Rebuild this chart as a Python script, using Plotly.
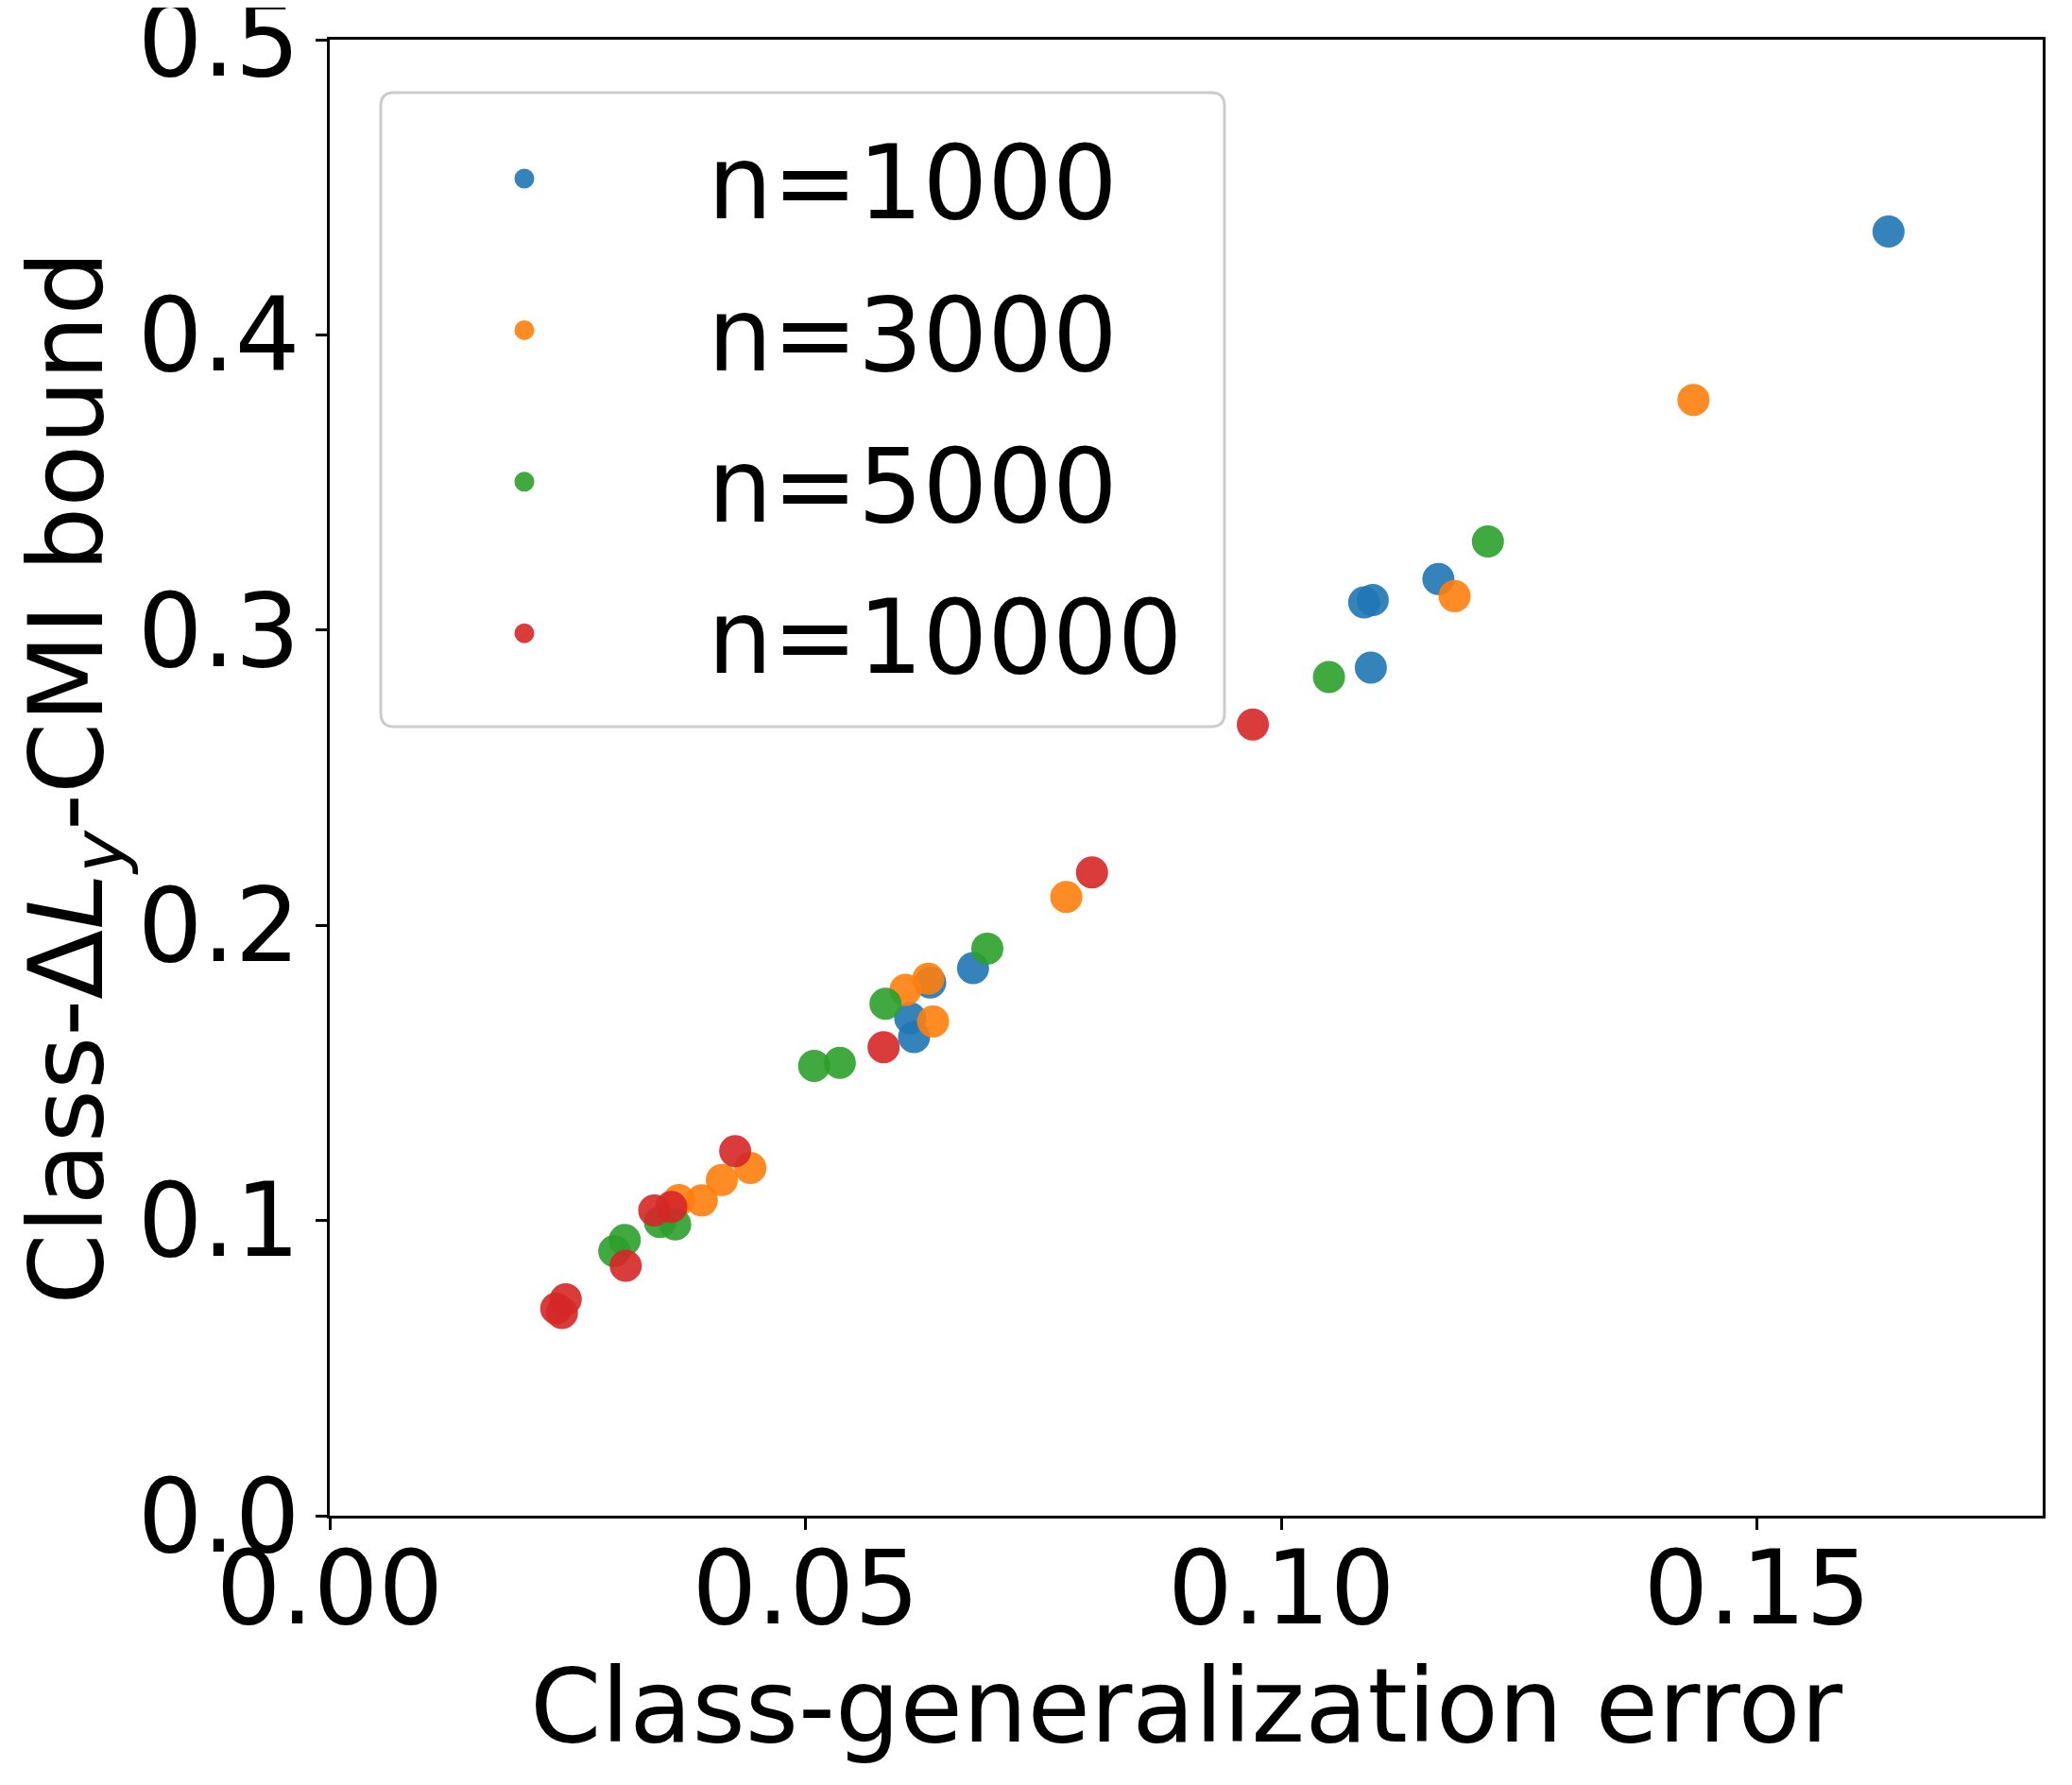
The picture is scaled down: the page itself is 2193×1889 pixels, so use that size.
"""
Class-generalization error vs class-ΔL_y-CMI bound, one series per training size
"""

import plotly.graph_objects as go

# values
labels = ["n=1000", "n=3000", "n=5000", "n=10000"]
colors = ["#1f77b4", "#ff7f0e", "#2ca02c", "#d62728"]

gen_1000 = [0.1638, 0.1165, 0.1087, 0.1096, 0.1094, 0.0676, 0.0631, 0.0610, 0.0614]
bound_1000 = [0.435, 0.3173, 0.3094, 0.3102, 0.2873, 0.1855, 0.1806, 0.1685, 0.1621]

gen_3000 = [0.1433, 0.1182, 0.0774, 0.0629, 0.0605, 0.0634, 0.0442, 0.0412, 0.0391, 0.0367]
bound_3000 = [0.378, 0.3115, 0.2096, 0.1819, 0.1781, 0.1674, 0.1178, 0.1137, 0.1068, 0.1069]

gen_5000 = [0.1217, 0.1050, 0.0691, 0.0584, 0.0536, 0.0509, 0.0363, 0.0347, 0.0310, 0.0299]
bound_5000 = [0.330, 0.2841, 0.1921, 0.1734, 0.1534, 0.1524, 0.0987, 0.0995, 0.0934, 0.0896]

gen_10000 = [0.0970, 0.0801, 0.0582, 0.0426, 0.0359, 0.0341, 0.0311, 0.0248, 0.0238, 0.0244]
bound_10000 = [0.268, 0.2179, 0.1587, 0.1235, 0.1046, 0.1034, 0.0847, 0.0733, 0.0702, 0.0687]

x_ticks = [0.0, 0.05, 0.10, 0.15]
y_ticks = [0.0, 0.1, 0.2, 0.3, 0.4, 0.5]

FONT = "DejaVu Sans"
FONT_SIZE = 108

# page layout in px (the browser adds an 8px body margin)
PAGE_OFFSET = 8
PLOT_LEFT, PLOT_RIGHT, PLOT_TOP, PLOT_BOTTOM = 349, 2162, 42, 1604
FIG_W, FIG_H = 2177, 1873


def _rounded_box(left, top, right, bottom, radius) -> str:
    """SVG path (paper coords) of a rounded legend frame given in page px."""
    pw = PLOT_RIGHT - PLOT_LEFT
    ph = PLOT_BOTTOM - PLOT_TOP

    def px(x):
        return (x - PLOT_LEFT) / pw

    def py(y):
        return (PLOT_BOTTOM - y) / ph

    r = radius
    return (
        f"M {px(left + r)},{py(top)} L {px(right - r)},{py(top)} "
        f"Q {px(right)},{py(top)} {px(right)},{py(top + r)} "
        f"L {px(right)},{py(bottom - r)} "
        f"Q {px(right)},{py(bottom)} {px(right - r)},{py(bottom)} "
        f"L {px(left + r)},{py(bottom)} "
        f"Q {px(left)},{py(bottom)} {px(left)},{py(bottom - r)} "
        f"L {px(left)},{py(top + r)} "
        f"Q {px(left)},{py(top)} {px(left + r)},{py(top)} Z"
    )


def build_figure() -> go.Figure:
    """Scatter of the four series with a matplotlib-like look."""
    series = [
        (gen_1000, bound_1000),
        (gen_3000, bound_3000),
        (gen_5000, bound_5000),
        (gen_10000, bound_10000),
    ]
    fig = go.Figure()
    for (xs, ys), name, color in zip(series, labels, colors):
        fig.add_trace(
            go.Scatter(
                x=xs,
                y=ys,
                mode="markers",
                name=name,
                legendgroup=name,
                marker=dict(size=29, color=color, opacity=0.9, line=dict(color=color, width=5)),
            )
        )

    axis_common = dict(
        showgrid=False,
        zeroline=False,
        showline=True,
        linecolor="black",
        linewidth=3,
        mirror=True,
        ticks="outside",
        ticklen=12,
        tickwidth=3,
        tickcolor="black",
        ticklabeloverflow="allow",
        tickfont=dict(family=FONT, size=FONT_SIZE, color="black"),
    )
    fig.update_xaxes(
        range=[0, 0.18],
        tickvals=x_ticks,
        tickformat=".2f",
        ticklabelstandoff=-31,
        title=dict(text="Class-generalization error", font=dict(family=FONT, size=FONT_SIZE), standoff=0),
        **axis_common,
    )
    fig.update_yaxes(
        range=[0, 0.5],
        tickvals=y_ticks,
        tickformat=".1f",
        ticklabelstandoff=-5,
        title=dict(
            text="Class-Δ<i>L</i><sub><i>y</i></sub>-CMI bound",
            font=dict(family=FONT, size=FONT_SIZE),
            standoff=51,
        ),
        **axis_common,
    )

    # rounded, semi-transparent legend frame like matplotlib's
    fig.add_shape(
        type="path",
        xref="paper",
        yref="paper",
        path=_rounded_box(403, 98, 1296, 769, 14),
        fillcolor="rgba(255,255,255,0.8)",
        line=dict(color="#cccccc", width=3),
        layer="above",
    )

    fig.update_layout(
        width=FIG_W,
        height=FIG_H,
        margin=dict(
            l=PLOT_LEFT - PAGE_OFFSET,
            r=FIG_W - (PLOT_RIGHT - PAGE_OFFSET),
            t=PLOT_TOP - PAGE_OFFSET,
            b=FIG_H - (PLOT_BOTTOM - PAGE_OFFSET),
            autoexpand=False,
        ),
        plot_bgcolor="white",
        paper_bgcolor="white",
        font=dict(family=FONT, size=FONT_SIZE, color="black"),
        showlegend=True,
        legend=dict(
            x=0.0066,
            y=0.955,
            xanchor="left",
            yanchor="top",
            bgcolor="rgba(0,0,0,0)",
            borderwidth=0,
            font=dict(family=FONT, size=FONT_SIZE, color="black"),
            itemwidth=378,
            tracegroupgap=17,
        ),
    )
    return fig


fig = build_figure()
fig.write_html("out.html")
